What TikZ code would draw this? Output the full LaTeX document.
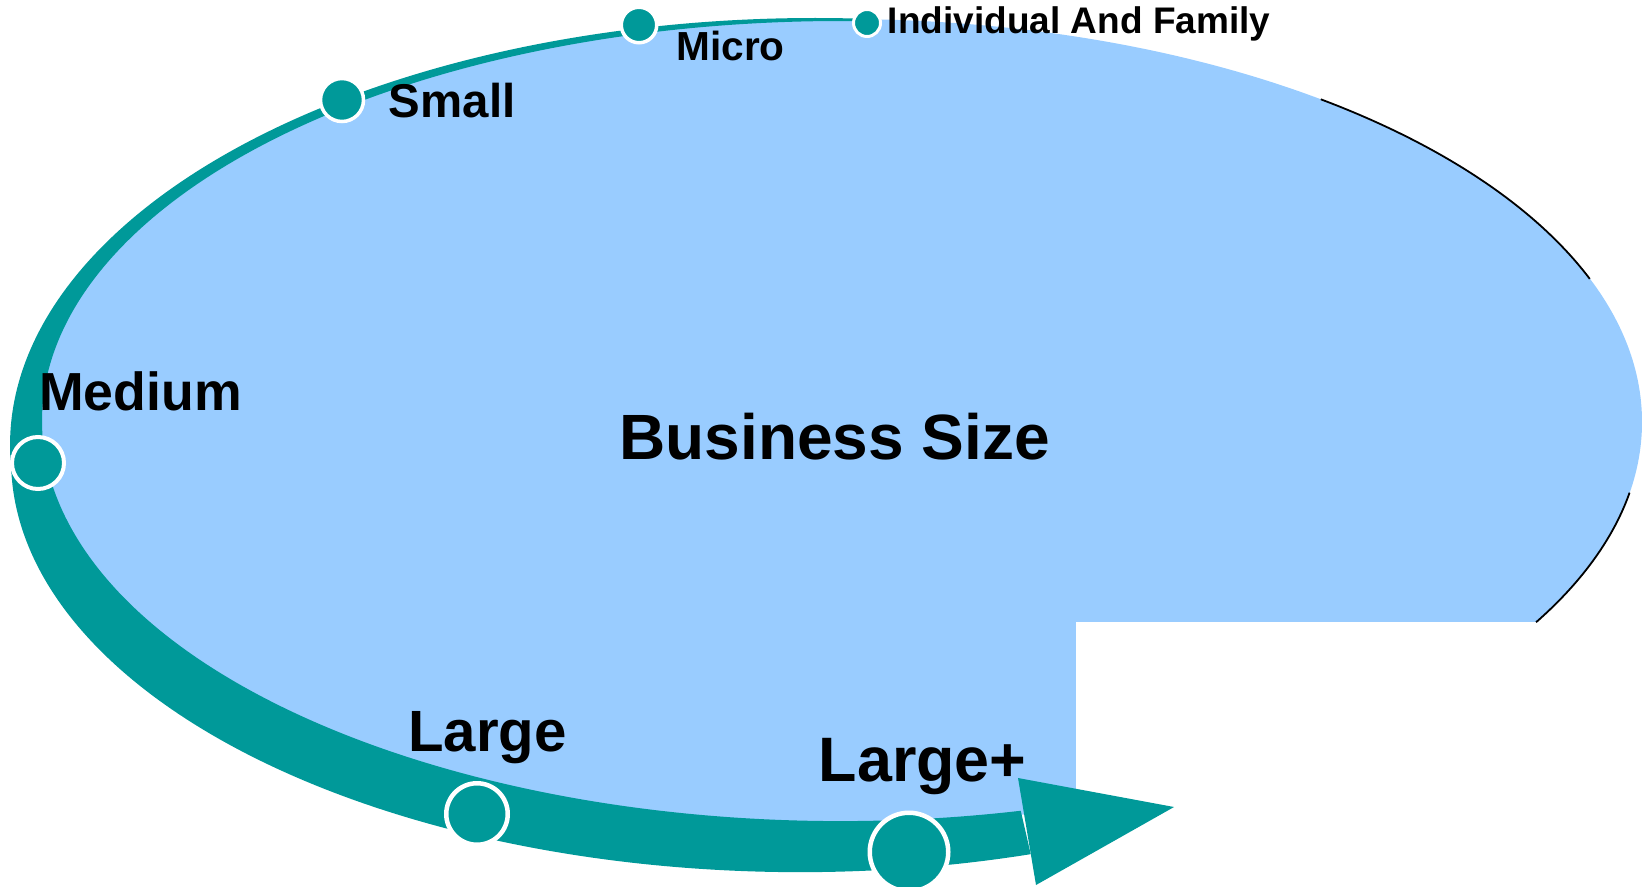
\documentclass[tikz,border=0pt]{standalone}
\usepackage{fontspec}
\setmainfont{Liberation Sans}
\definecolor{bandteal}{RGB}{0,153,153}
\definecolor{sizeblue}{RGB}{153,204,255}
\tikzset{
  sizedot/.style={
    circle, inner sep=0pt,
    fill=bandteal, draw=white, line width=2pt
  },
  sizelabel/.style={
    anchor=base west, inner sep=0pt, text=black
  },
  rimline/.style={draw=black, line width=0.9pt}
}
\newcommand{\lblfont}[1]{\bfseries\fontsize{#1}{#1}\selectfont}

\begin{document}
\begin{tikzpicture}[x=0.5pt, y=-0.5pt]
  \useasboundingbox (0,0) rectangle (1642,887);
  \clip (0,0) rectangle (1642,887);

  % Ellipse body and the cut-out corner
  \coordinate (body) at (841,422);
  \fill[sizeblue] (body) ellipse[x radius=801, y radius=403];
  \fill[white] (1076,622) rectangle (1642,887);
  \draw[rimline] (body) ++(-53.2:801 and 403)
    arc[start angle=-53.2, end angle=-20.8, x radius=801, y radius=403];
  \draw[rimline] (body) ++(10.1:801 and 403)
    arc[start angle=10.1, end angle=29.8, x radius=801, y radius=403];

  % Growth band: two outer arcs, inner arc along the body
  \fill[bandteal] (869.05,18.97)
    arc[start angle=273.85, end angle=176.9, x radius=805, y radius=427]
    arc[start angle=178.9, end angle=73, x radius=789, y radius=412]
    -- (1020.74,810.75)
    arc[start angle=77, end angle=272, x radius=799, y radius=400]
    -- cycle;

  % Arrow head
  \fill[bandteal] (1018,778) -- (1174,807) -- (1036,885) -- cycle;

  % Size stages
  \node[sizedot, minimum size=13.5pt, line width=1.5pt] (indiv) at (867,23) {};
  \node[sizedot, minimum size=17.75pt, line width=1.75pt] (micro) at (639,25) {};
  \node[sizedot, minimum size=21.5pt, line width=1.75pt] (small) at (342,100) {};
  \node[sizedot, minimum size=26pt] (medium) at (38,463) {};
  \node[sizedot, minimum size=30.75pt, line width=2.25pt] (large) at (477,814) {};
  \node[sizedot, minimum size=39.25pt, line width=2.25pt] (largeplus) at (909,852) {};

  % Labels
  \node[sizelabel, font={\lblfont{18.5}}] (indivtext) at (887.5,33.3) {Individual And Family};
  \node[sizelabel, font={\lblfont{20.3}}] (microtext) at (676,60.7) {Micro};
  \node[sizelabel, font={\lblfont{23.7}}] (smalltext) at (388.5,117.3) {Small};
  \node[sizelabel, font={\lblfont{26.8}}] (mediumtext) at (38.8,410) {Medium};
  \node[sizelabel, font={\lblfont{29.1}}] (largetext) at (407.8,751.7) {Large};
  \node[sizelabel, font={\lblfont{31.4}}] (largeplustext) at (818.4,781.7) {Large+};
  \node[sizelabel, font={\lblfont{32}}] (title) at (619,459) {Business Size};
\end{tikzpicture}
\end{document}
